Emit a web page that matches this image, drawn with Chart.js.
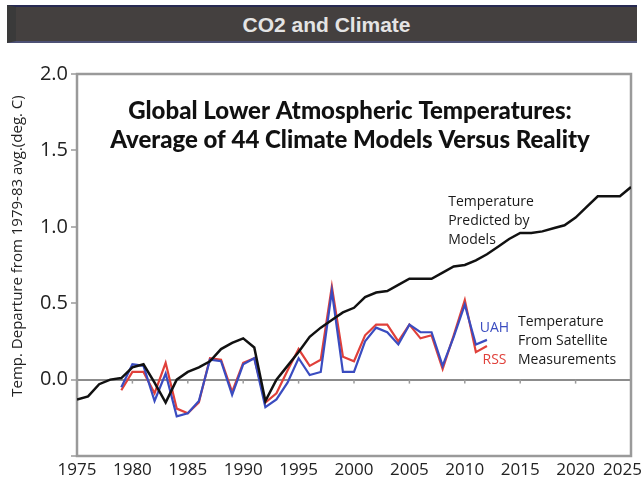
<!DOCTYPE html>
<html>
<head>
<meta charset="utf-8">
<script src="https://cdn.jsdelivr.net/npm/chart.js@4"></script>
<style>
  body { margin: 0; background: #fff; }
  #wrap { position: relative; width: 644px; height: 484px; }
  #grafico { position: absolute; left: 0; top: 0; }
  #cabecera {
    position: absolute; left: 7px; top: 5px; width: 621px; height: 34px;
    background: #44403f; border-top: 2px solid #272a52; border-bottom: 2px solid #4d5175;
    border-left: 9px solid #3a3a3a; box-sizing: content-box;
    color: #e4e4e4; font: bold 21px "Liberation Sans", Arial, sans-serif;
    text-align: center; line-height: 36px; z-index: 2;
  }
</style>
</head>
<body>
<div id="wrap">
  <div id="cabecera">CO2 and Climate</div>
  <canvas id="grafico" width="644" height="484"></canvas>
</div>
<script>
/* DATOS */
const aniosModelo = [1975, 1976, 1977, 1978, 1979, 1980, 1981, 1982, 1983, 1984,
  1985, 1986, 1987, 1988, 1989, 1990, 1991, 1992, 1993, 1994,
  1995, 1996, 1997, 1998, 1999, 2000, 2001, 2002, 2003, 2004,
  2005, 2006, 2007, 2008, 2009, 2010, 2011, 2012, 2013, 2014,
  2015, 2016, 2017, 2018, 2019, 2020, 2021, 2022, 2023, 2024, 2025]
const valoresModelo = [-0.13, -0.11, -0.03, 0.00, 0.01, 0.08, 0.10, -0.02, -0.15, 0.00,
  0.05, 0.08, 0.12, 0.20, 0.24, 0.27, 0.21, -0.14, 0.00, 0.09,
  0.18, 0.28, 0.34, 0.39, 0.44, 0.47, 0.54, 0.57, 0.58, 0.62,
  0.66, 0.66, 0.66, 0.70, 0.74, 0.75, 0.78, 0.82, 0.87, 0.92,
  0.96, 0.96, 0.97, 0.99, 1.01, 1.06, 1.13, 1.20, 1.20, 1.20, 1.26]

const aniosSatelite = [1979, 1980, 1981, 1982, 1983, 1984, 1985, 1986, 1987, 1988,
  1989, 1990, 1991, 1992, 1993, 1994, 1995, 1996, 1997, 1998,
  1999, 2000, 2001, 2002, 2003, 2004, 2005, 2006, 2007, 2008,
  2009, 2010, 2011, 2012]
const valoresUAH = [-0.05, 0.10, 0.09, -0.14, 0.04, -0.24, -0.22, -0.14, 0.13, 0.12,
  -0.10, 0.10, 0.14, -0.18, -0.13, -0.02, 0.14, 0.03, 0.05, 0.58,
  0.05, 0.05, 0.25, 0.34, 0.31, 0.23, 0.36, 0.31, 0.31, 0.09,
  0.28, 0.49, 0.23, 0.26]
const valoresRSS = [-0.07, 0.05, 0.05, -0.09, 0.11, -0.19, -0.22, -0.15, 0.14, 0.13,
  -0.08, 0.11, 0.14, -0.15, -0.09, 0.06, 0.20, 0.09, 0.13, 0.61,
  0.15, 0.12, 0.29, 0.36, 0.36, 0.25, 0.36, 0.27, 0.29, 0.07,
  0.29, 0.52, 0.18, 0.22]

const ticksY = [-0.5, 0.0, 0.5, 1.0, 1.5, 2.0]
const etiquetaEjeY = "Temp. Departure from 1979-83 avg.(deg. C)"
const titulo = ["Global Lower Atmospheric Temperatures:", "Average of 44 Climate Models Versus Reality"]

/* notas dentro del grafico, ancladas en coordenadas de datos */
const notas = [
  { lineas: ["Temperature", "Predicted by", "Models"], x: 2008.5, y: 1.16, color: "#1a1a1a" },
  { lineas: ["Temperature", "From Satellite", "Measurements"], x: 2014.8, y: 0.38, color: "#1a1a1a" },
  { lineas: ["UAH"], x: 2011.35, y: 0.34, color: "#3a4cc0" },
  { lineas: ["RSS"], x: 2011.6, y: 0.13, color: "#e0403a" }
]

/* FUNCIONES */
function puntos(xs, ys) {
  return xs.map((x, i) => ({ x: x, y: ys[i] }))
}

const GRIS = "#9a9a9a"

const pluginDecoracion = {
  id: "decoracion",
  beforeDatasetsDraw(chart) {
    const { ctx, chartArea: a } = chart
    ctx.save()
    ctx.strokeStyle = GRIS
    ctx.lineWidth = 2.5
    ctx.strokeRect(a.left, a.top, a.right - a.left, a.bottom - a.top)
    // marcas pequeñas sobre la linea cero
    const sx = chart.scales.x, sy = chart.scales.y
    const y0 = sy.getPixelForValue(0)
    ctx.lineWidth = 1.5
    sx.ticks.forEach(t => {
      if (t.value <= sx.min || t.value >= sx.max) return
      const px = sx.getPixelForValue(t.value)
      ctx.beginPath()
      ctx.moveTo(px, y0)
      ctx.lineTo(px, y0 + 4)
      ctx.stroke()
    })
    ctx.restore()
  },
  afterDraw(chart) {
    const { ctx, chartArea: a } = chart
    const sx = chart.scales.x, sy = chart.scales.y
    ctx.save()
    // titulo
    ctx.fillStyle = "#111"
    ctx.textAlign = "center"
    ctx.textBaseline = "middle"
    ctx.font = "900 24px Lato"
    const cx = (a.left + a.right) / 2 - 4
    ctx.fillText(titulo[0], cx, 111)
    ctx.fillText(titulo[1], cx, 140)
    // etiqueta eje Y
    ctx.font = "15px 'Open Sans'"
    ctx.fillStyle = "#222"
    ctx.translate(18, 246)
    ctx.rotate(-Math.PI / 2)
    ctx.fillText(etiquetaEjeY, 0, 0)
    ctx.setTransform(1, 0, 0, 1, 0, 0)
    // etiquetas eje X
    ctx.font = "17px 'Open Sans'"
    ctx.fillStyle = "#222"
    sx.ticks.forEach(t => {
      const txt = String(t.value)
      const w = ctx.measureText(txt).width
      let px = sx.getPixelForValue(t.value)
      px = Math.min(px, chart.width - 2 - w / 2)
      ctx.fillText(txt, px, a.bottom + 14)
    })
    // notas
    ctx.textAlign = "left"
    ctx.font = "14px 'Open Sans'"
    notas.forEach(n => {
      ctx.fillStyle = n.color
      const px = sx.getPixelForValue(n.x)
      const py = sy.getPixelForValue(n.y)
      n.lineas.forEach((l, i) => ctx.fillText(l, px, py + i * 19))
    })
    ctx.restore()
  }
}

const config = {
  type: "line",
  data: {
    datasets: [
      { label: "Models", data: puntos(aniosModelo, valoresModelo), borderColor: "#111",
        borderWidth: 2.5, pointRadius: 0, tension: 0, order: 0 },
      { label: "UAH", data: puntos(aniosSatelite, valoresUAH), borderColor: "#3a4cc0",
        borderWidth: 2.2, pointRadius: 0, tension: 0, order: 1 },
      { label: "RSS", data: puntos(aniosSatelite, valoresRSS), borderColor: "#e0403a",
        borderWidth: 2.2, pointRadius: 0, tension: 0, order: 2 }
    ]
  },
  options: {
    responsive: false,
    animation: false,
    devicePixelRatio: 1,
    layout: { padding: { top: 74, left: 5, right: 13, bottom: 0 } },
    plugins: { legend: { display: false }, tooltip: { enabled: false }, title: { display: false } },
    scales: {
      x: {
        type: "linear", min: 1975, max: 2025,
        ticks: { display: false, stepSize: 5 },
        grid: { display: false },
        border: { display: false },
        afterFit: s => { s.height = 28; s.paddingLeft = 0; s.paddingRight = 0 }
      },
      y: {
        min: -0.5, max: 2.0,
        afterBuildTicks: s => { s.ticks = ticksY.map(v => ({ value: v })) },
        ticks: {
          padding: 3, color: "#222", font: { family: "Open Sans", size: 20 },
          callback: v => v === -0.5 ? "" : v.toFixed(1)
        },
        grid: {
          color: c => c.tick && c.tick.value === 0 ? "#8c8c8c" : "transparent",
          lineWidth: 2, tickColor: GRIS, tickLength: 6, tickWidth: 1.5
        },
        border: { display: false },
        afterFit: s => { s.width = 72 }
      }
    }
  },
  plugins: [pluginDecoracion]
}

new Chart(document.querySelector("#grafico"), config)
</script>
</body>
</html>
